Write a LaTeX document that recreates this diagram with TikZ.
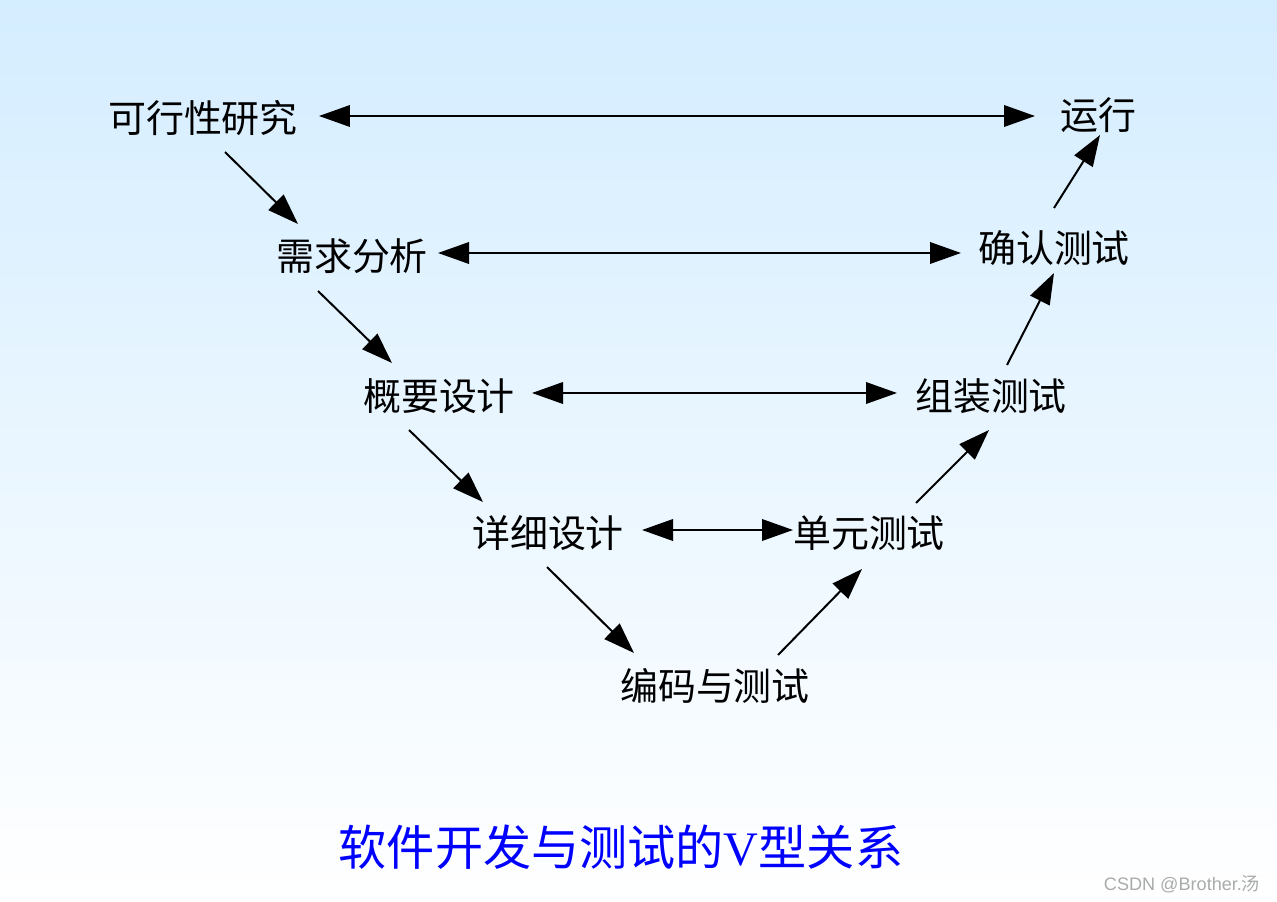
\documentclass[tikz,border=0pt]{standalone}
\usepackage{fontspec}
\setmainfont{Noto Sans CJK SC}
\newfontfamily\markfont{Liberation Sans}
\newfontfamily\vfont{Liberation Serif}
\usetikzlibrary{arrows.meta,calc}
\definecolor{bgtop}{RGB}{212,237,255}
\definecolor{titleblue}{RGB}{0,0,255}
\definecolor{markgray}{RGB}{170,170,170}
\tikzset{
  stage/.style={inner sep=0pt, font=\fontsize{21.6}{26}\selectfont},
  flow/.style={line width=0.04cm, -{Triangle[length=0.62cm,width=0.43cm]}},
  link/.style={line width=0.04cm, {Triangle[length=0.62cm,width=0.43cm]}-{Triangle[length=0.62cm,width=0.43cm]}}
}

\begin{document}
\begin{tikzpicture}[x=0.02cm, y=-0.02cm]
	\shade[top color=bgtop, bottom color=white] (0,0) rectangle (1277,902);
	\useasboundingbox (0,0) rectangle (1277,902);

	\node[stage] (kx) at (203,118) {可行性研究};
	\node[stage] (xq) at (352,256) {需求分析};
	\node[stage] (gy) at (439,396) {概要设计};
	\node[stage] (xx) at (548,533) {详细设计};
	\node[stage] (bm) at (715,686) {编码与测试};
	\node[stage] (dy) at (869,533) {单元测试};
	\node[stage] (zz) at (991,396) {组装测试};
	\node[stage] (qr) at (1054,248) {确认测试};
	\node[stage] (yx) at (1098,115) {运行};

	\draw[link] ($(kx)+(116,-2)$) -- ($(yx)+(-63,1)$);
	\draw[link] ($(xq)+(86,-3)$) -- ($(qr)+(-93,5)$);
	\draw[link] ($(gy)+(93,-3)$) -- ($(zz)+(-94,-3)$);
	\draw[link] ($(xx)+(94,-3)$) -- ($(dy)+(-76,-3)$);

	\draw[flow] ($(kx)+(22,34)$) -- ($(xq)+(-54,-32)$);
	\draw[flow] ($(xq)+(-34,35)$) -- ($(gy)+(-47,-33)$);
	\draw[flow] ($(gy)+(-30,34)$) -- ($(xx)+(-65,-31)$);
	\draw[flow] ($(xx)+(-1,34)$) -- ($(bm)+(-81,-33)$);
	\draw[flow] ($(bm)+(63,-31)$) -- ($(dy)+(-7,36)$);
	\draw[flow] ($(dy)+(47,-30)$) -- ($(zz)+(-2,34)$);
	\draw[flow] ($(zz)+(16,-31)$) -- ($(qr)+(0,25)$);
	\draw[flow] ($(qr)+(0,-40)$) -- ($(yx)+(2,20)$);

	\node[text=titleblue, inner sep=0pt, font=\fontsize{27.4}{32}\selectfont] (title) at (621,847) {软件开发与测试的{\vfont V}型关系};
	\node[text=markgray, inner sep=0pt, font=\fontsize{10.3}{12}\selectfont] (mark) at (1182,884) {{\markfont CSDN @Brother.}汤};
\end{tikzpicture}
\end{document}
